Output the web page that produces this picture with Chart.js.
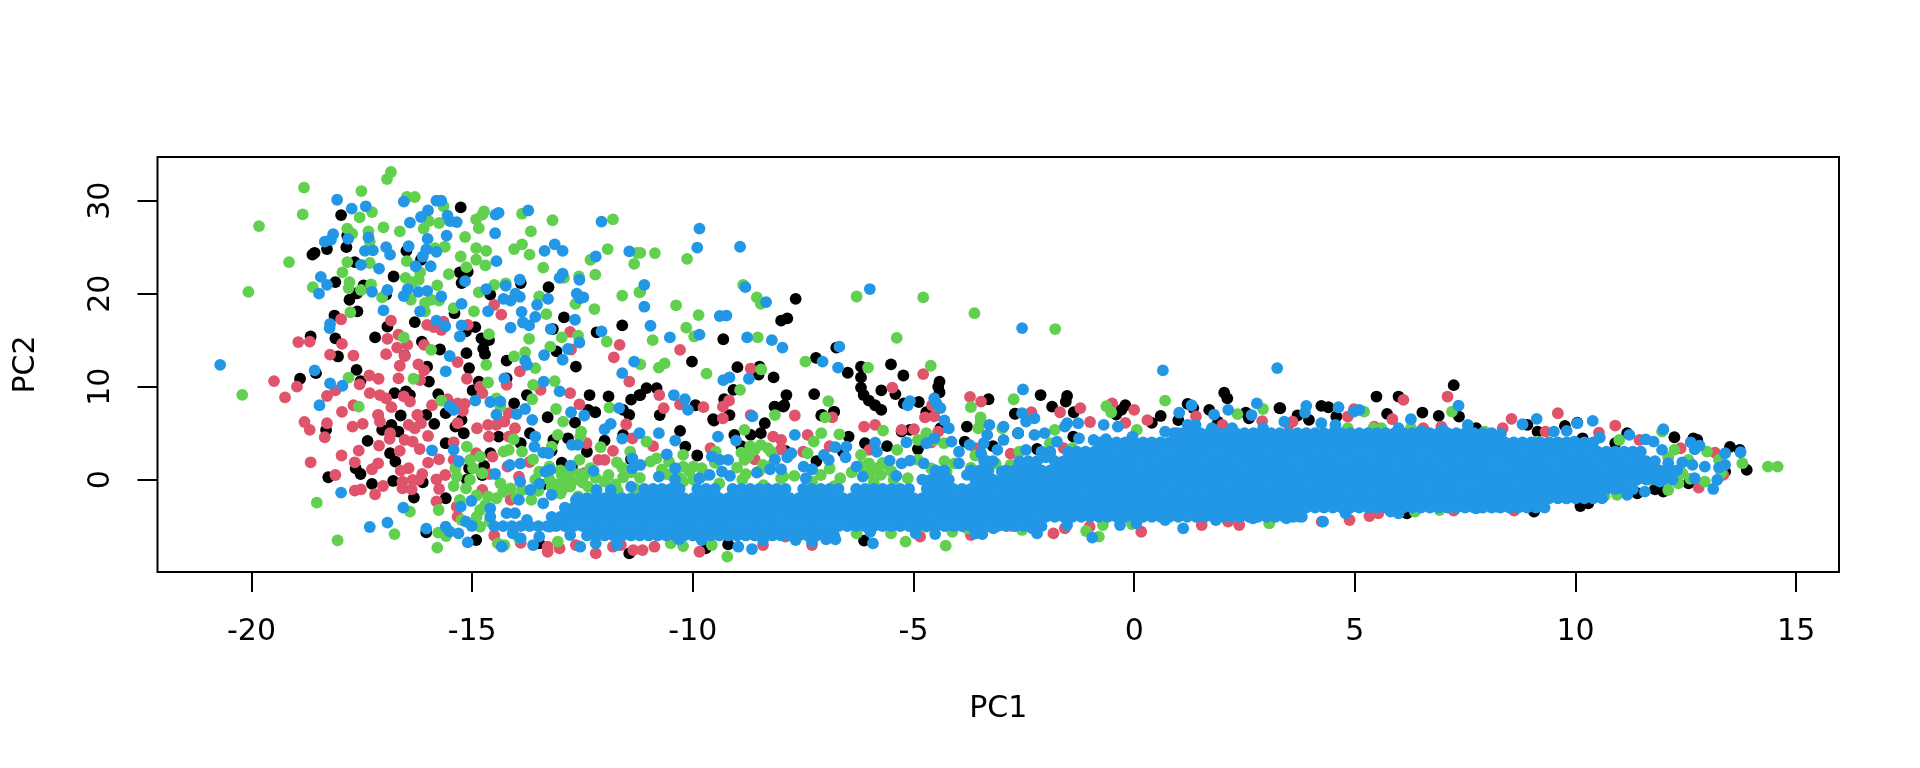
<!DOCTYPE html>
<html>
<head>
<meta charset="utf-8">
<title>PC1 vs PC2</title>
<script src="https://cdn.jsdelivr.net/npm/chart.js@4/dist/chart.umd.min.js"></script>
<style>
  body { margin: 0; background: #fff; }
  canvas { display: block; }
</style>
</head>
<body>
<canvas id="chart" width="1920" height="768"></canvas>
<script>
// values, flat x,y pairs per group
const blackPairs = [
-15.26,29.28,-17.97,28.45,-17.83,26.25,-17.85,25,-18.57,24.4,-18.62,24.2,-18.29,24.8,-16.49,24.6,-16.16,23.65,-17.66,23.4,-16.78,21.85,-15.28,22.3,-15.1,22.35,-15.24,21.15,-13.9,21.15,-13.27,20.7,-18.1,21.25,-17.46,20.9,-17.61,20.05,-17.78,19.35,-14.59,19.9,-16.95,19.9,-17.6,18.1,-18.12,17.65,-15.4,17.9,-12.92,17.45,-16.3,16.95,-16.92,16.45,-14.93,16.4,-15.14,15.95,-13.17,16.2,-11.6,16.6,-12.18,15.85,-18.66,15.4,-18.1,15.2,-17.2,15.3,-16.14,14.85,-14.79,15.2,-14.62,15,-14.75,14.1,-14.71,13.5,-15.13,13.6,-15.73,14,-13.09,13.8,-16.53,13.35,-18.04,13.25,-14.22,12.8,-12.65,12.15,-15.07,12,-16.02,12.15,-17.62,11.8,-18.54,11.45,-18.9,10.85,-17.53,10.6,-15.98,10.55,-14.85,10.55,-14.22,10.9,-14.99,9.6,-16.76,9.3,-16.5,9.5,-16.41,9.1,-15.77,9.2,-13.76,9.1,-12.34,9.1,-11.91,8.95,-11.4,8.6,-11.21,9.1,-14.05,8.2,-12.37,7.5,-12.21,7.25,-11.58,7.5,
-18.31,5.35,-16.83,5.89,-16.67,5.17,-17.04,5.35,-15.86,6,-16.62,6.9,-16.04,6.97,-15.6,7.15,-15.19,4.99,-15.38,5.71,-15.6,3.92,-15.24,6.43,-17.37,4.17,-16.86,2.84,-16.74,1.94,-17.64,1.23,-17.53,0.61,-18.26,0.26,-17.27,-0.46,-16.79,-0.14,-16.12,-0.28,-16.32,-1.93,-15.6,-2,-15.07,1.23,-14.73,1.47,-14.77,0.5,-15.12,0,-14.59,2.84,-14.91,-6.49,-16.04,-5.66,-13.69,4.99,-14.4,4.63,-13.9,3.92,-13.29,6.71,-12.67,6.14,-13.16,4.27,-12.83,4.45,-12.97,1.83,-12.74,1.4,-13.48,-6.85,-12,4.2,-11.58,4.81,-11.44,6.97,-11.44,-7.92,-13.43,-0.57,
-7.67,19.45,-7.86,17.35,-8,17.1,-9.31,15.1,-6.75,14.2,-7.21,13.1,-10.02,12.7,-8.99,12.1,-8.49,12.15,-8.51,11.3,-8.17,11,-6.19,12.15,-6.19,11,-6.49,11.5,-5.51,12.4,-5.23,11.2,-4.41,10.55,-4.44,10,-4.41,9.4,-6.19,9.9,-6.13,9.1,-6.01,8.5,-5.87,8,-5.73,7.5,-5.73,9.6,-5.41,9.2,-5.22,8.2,-4.88,8.35,-4.71,7.25,-11.05,9.85,-10.82,9.85,-11.19,9.1,-9.94,8,-10.75,6.95,-9.08,9.65,-9.29,8.65,-9.17,6.95,-9.54,6.5,-7.88,9.1,-7.93,8,-8.12,7.8,-7.25,9.2,-6.8,7.3,-7.09,6.9,-3.3,8.65,-2.12,9.1,-1.52,9,-1.55,8.4,-1.86,7.85,-1.37,7.25,-2.7,7.1,-0.2,8,-0.29,7.5,-0.41,7,2.04,9.35,2.11,8.75,1.21,8.15,1.34,7.7,1.7,7.5,0.6,6.85,2.53,7.2,3.29,7.7,
-10.29,5.24,-10.17,3.56,-9.52,6.36,-9.06,4.81,-8.69,4.81,-8.46,5,-8.37,6.07,-7.95,7.86,-8.15,7.86,-7.07,6.97,-6.8,7.3,-6.47,4.63,-6.1,3.92,-5.27,5.17,-5.08,5.35,-4.39,5.53,-3.79,5.71,-3.84,4.09,-2.63,4.99,-2.7,7.07,-1.38,4.63,-9.2,-6.96,-6.12,-6.56,-9.71,-7.39,
5.49,8.94,5.99,8.94,7.24,10.16,6.53,7.22,6.9,6.86,7.36,6.79,5.73,7.07,4.24,7.94,4.4,7.79,3.96,6.43,4.58,6.79,3.31,7.68,9.76,5.78,10.04,6.14,8.91,5.89,9.14,5.17,10.16,4.45,11.17,4.99,12.24,4.56,12.67,4.45,12.76,4.27,13.5,3.52,13.72,3.2,13.88,1.05,13.39,0.87,10.11,-2.83,10.29,-2.54,9.06,-3.44,6.18,-3.62,11.8,-1.03,11.99,-1.29,12.56,-0.39,11.4,-1.46,10.9,3.92,7.75,5.53,
0.4,6.1,1,6.4,1.9,6.2,2.6,6.6,3.7,6.9,-9.9,2.6,-8.9,3.6,-7.9,3.1,-7.2,2,-6.6,3,-5.6,3.6,-4.9,3.3,-3.2,3.6,-2.2,3.3,-12.4,3,-11.4,2.2,-13.2,3.1
];
const redPairs = [
-16.84,17.1,-17.97,17.25,-16.02,16.65,-15.65,17,-15.7,16.1,-15.87,16.4,-15.1,16.65,-14.5,18.8,-14.34,17.75,-12.78,15.9,-11.66,14.5,-18.94,14.8,-18.68,14.85,-17.95,14.6,-16.92,15.15,-16.67,15.6,-16.7,14.2,-16.47,14.5,-16.09,14.5,-18.22,13.45,-17.69,13.35,-16.95,13.5,-16.53,13.3,-15.33,12.65,-12.76,14,-11.79,13.15,-16.64,12.25,-16.22,12.4,-16.09,11.75,-13.92,11.65,-19.49,10.6,-18.97,10,-17.33,11.2,-17.12,10.85,-16.67,10.9,-16.18,10.7,-15.12,10.85,-14.22,10.2,-11.44,10.55,-17.55,10.25,-19.24,8.85,-18.29,9,-18.1,9.6,-17.32,9.3,-17.09,9.1,-16.95,8.75,-16.55,8.95,-16.41,8.4,-15.56,8.65,-15.33,8.2,-15.17,8.15,-14.82,10,-14.77,9.3,-12.78,9.3,-13.45,9.65,-12.57,8.1,-15.91,8,-16.83,7.8,-17.69,8,-17.95,7.3,-17.13,6.95,-16.24,6.95,-14.17,7.15,
-18.8,6.2,-18.68,5.35,-18.29,6.07,-18.34,4.56,-17.71,5.7,-17.48,6,-17.13,6.97,-17.09,6.25,-16.24,6.97,-16.16,6.07,-16.44,5.9,-16.3,5.53,-16.86,5,-16.87,4.38,-16.53,4.27,-16.35,4.1,-16,4.7,-16.19,3.3,-17.11,3.66,-17.57,3.13,-17.96,2.6,-18.66,1.87,-17.66,1.87,-17.13,1.76,-17.27,1.12,-16.64,3.09,-16,1.83,-16.44,1.23,-16.62,0.97,-16.13,0.61,-18.1,0.5,-16.58,-0.21,-16.35,-0.03,-16.21,-0.03,-15.81,0.04,-15.61,0.5,-17.02,-0.68,-16.58,-0.93,-16.37,-1.04,-17.52,-1.04,-17.66,-1.18,-17.2,-1.57,-15.75,-1,-15.81,-2.33,-15.75,2.19,-15.42,4.02,-15.42,2.12,-14.89,5.53,-14.64,5.89,-14.45,5.89,-14.62,4.63,-14.27,6.25,-14.03,5.53,-14.17,4.63,-12.41,3.92,-11.81,3.09,-11.51,5.96,-11.37,4.45,-14.91,2.84,-14.54,2.48,-13.94,0.33,-14.77,-1.11,-15.35,-2.9,-15.33,-3.98,-13.29,-7.75,-13.02,-7.39,-12.65,-7.03,-12.2,-7.92,-11.81,-7.21,-12.46,0.69,-12.14,2.12,-12,2.12,-13.29,-7.21,-14.13,-2.18,-15.33,6.07,-15.21,7.4,-11.63,-7.03,-11.35,-7.57,
-10.29,13.95,-4.78,11.35,-8.69,11.95,-5.48,9.9,-10.76,9.1,-10.66,7.7,-10.29,8.1,-9.76,7.8,-9.18,8.5,-9.32,7.85,-9.32,6.6,-8.69,6.95,-7.69,6.9,-6.84,6.7,-4.58,8,-3.72,8.9,-3.47,8.4,-4.74,6.7,-4.53,6.8,-2.33,7.25,-1.68,7.25,-1.22,7.7,-0.5,8.2,0,7.5,
-6.12,5.71,-5.87,5.89,-5.27,5.35,-4.99,5.42,-8.18,4.63,-8,4.27,-8,3.27,-7.4,4.81,-4.44,5.17,-9.85,-7.75,-10.87,-7.21,-11.14,-7.57,-8.41,-7.03,-7.3,-7.03,-7.9,-6.13,-4.85,-6.13,-2.96,-4.88,-2.77,-4.98,-1.83,-5.77,-1.57,-5.23,-1.01,-5.06,0.16,-5.6,1.53,-4.88,2.38,-4.88,2.13,-4.52,-3.7,-5.95,
6.1,8.58,7.1,8.94,9.6,7.14,8.55,6.54,10.9,5.82,8.35,5.53,9.32,5.17,10.53,5.06,3.59,6.25,5.85,6.5,4.98,7.57,4.84,6.79,5.44,5.71,6.55,5.53,6.96,5.71,11.45,4.27,12.38,3.38,13.16,2.91,12.79,-0.86,13.35,0.51,4.25,-4.52,4.88,-4.34,5.33,-3.91,5.53,-3.62,7.24,-3.33,8.21,-2.72,8.61,-3.33,10,3.38,
0.3,6.4,1.4,6.8,2,5.9,2.9,6.3,3.5,5.9,-1,6.2,-0.2,6.1,-14.5,-6,-13.9,-6.8,-10.9,3.6,-9.6,3.4,-8.6,2.2,-7.5,3,-6.9,3.6,-6,3.2,-4.6,4,-3.6,3.4,-2.8,2.8,-1.6,3.4,-14.2,1.4,-13.7,1.9,-14.6,0.6
];
const greenPairs = [
-16.84,33.09,-16.93,32.33,-18.81,31.4,-17.51,31.04,-18.84,28.53,-19.83,27.27,-19.15,23.4,-20.07,20.2,-20.21,9.12,-17.27,28.78,-17.55,28.2,-17.01,27.13,-16.64,26.7,-16.48,30.4,-16.3,30.4,-17.83,27,-17.72,26.45,-17.35,26.7,-17.32,25.6,-16.1,27,-15.98,27.8,-15.75,27.6,-15.65,29.4,-14.91,28,-14.77,28.5,-14.85,27.05,-15.16,26.1,-14.73,28.85,-13.87,28.6,-13.67,26.7,-13.18,27.9,-11.81,28,-15.62,25.05,-15.84,24.9,-15.26,24,-14.91,24.9,-14.68,24.6,-14.05,24.8,-13.87,25.3,-13.7,24.2,-11.93,24.8,-12.32,23.65,-11.33,23.2,-11.26,24.4,-16.48,23.5,-14.91,23.65,-15.13,22.85,-14.7,23.05,-13.39,22.8,-15.53,22.1,-16.18,22.3,-12.92,21.7,-12.58,21.85,-12.21,22.05,-17.83,23.4,-17.94,22.3,-17.32,23.3,-17.78,21.25,-17.8,20.6,-17.52,20.4,-17.29,21,-18.61,20.7,-16.51,21.7,-16.35,21.25,-16.21,21.5,-15.79,20.9,-16.39,19.35,-17.04,19.6,-16.07,19,-15.75,19.25,-15.93,19.35,-15.42,18.45,-14.96,18.1,-16.07,18.1,-17.76,18,-14.85,20.15,-14.5,20.95,-14.24,21.1,-13.48,19.7,-12.66,18.9,-12.23,18.35,-11.6,19.8,-13.32,17.8,-11.21,20.15,-13.71,15.15,-14.62,15.65,-16.55,15.3,-12.97,15.3,-12.6,15.5,-11.95,14.85,-15.93,13.95,-14.05,13.25,-13.8,13.7,-13.23,14.3,-13.57,12,-14.68,12.35,-16.33,10.85,-17.8,10.98,-14.64,10.45,-13.13,10.6,-13.62,10.2,-15.7,8.5,-13.64,8.65,-14.45,8.75,-17.57,7.85,-13.1,7.6,-11.89,7.75,-14.36,7.85,
-18.52,-2.47,-18.05,-6.53,-16.76,-5.85,-16.41,-3.44,-15.79,-7.31,-15.76,-3.26,-15.77,-5.7,-15.59,-6.06,-15.12,3.56,-15.38,1.23,-15.35,0.33,-15.42,-0.68,-15.05,2.12,-14.82,2.48,-14.98,1.23,-14.77,0.69,-15.05,0,-15.14,-0.93,-15.28,-2.18,-15.24,-4.34,-14.82,-5.06,-14.82,-3.26,-14.64,-1.83,-14.45,-2,-14.36,-0.39,-14.13,-0.93,-14.29,3.02,-14.17,3.2,-14.06,4.35,-13.87,3.02,-13.62,2.19,-13.57,0,-13.48,0.87,-13.2,3.56,-13.06,4.81,-12.94,6.25,-12.53,5.17,-12.55,4.63,-12.09,3.49,-11.72,1.87,-11.42,3.02,-14.42,-6.85,-14.27,-7.03,-13.94,-6.31,-13.06,-6.67,-12.88,0,-12.97,0.5,-12.74,-0.21,-12.46,0.5,-12.57,2.12,-12.32,1.23,-11.91,0.5,-11.58,0.26,-13.25,1.4,-12.78,-0.75,-12.37,-0.75,-13.66,-2.18,-13.87,-1.11,-13.25,0,-13,-1.5,-12.6,-1.8,-12.2,-1.6,-11.7,-1.2,-11.3,-1,
-13,1,-12.75,0.9,-12.55,0.6,-12.2,0.2,-12,-0.2,-11.75,-0.5,-11.4,0.8,-11.2,0.2,-11.6,1.3,-13.2,-0.8,-12.95,-1,-12.5,-0.3,-14.9,-1.7,-14.7,-2.7,-14.3,-1.3,-14,-1.9,-14.9,-4,-14.6,-4.5,-13.5,-1.2,-13.1,-0.5,-10.7,1.1,-10.5,0.5,-10.3,0.2,-9.7,0.5,-9.5,1.8,-9,1.3,-8.8,0.6,-8.5,0.9,-8.2,1.6,-7.7,0.4,-7.1,0.5,-6.9,1.2,-6.4,0.8,-6.2,1.5,-5.95,0.9,-5.7,1.8,-5.5,0.9,-8.6,3.2,-8.9,2.9,-8.3,3.4,-4.6,1.2,-4.3,2,-3.7,1.3,-3.4,2.2,-2.8,1.6,-2.4,1.4,-1.9,2.6,-1.3,2.8,
-10.86,24.37,-10.13,23.75,-8.86,20.95,-6.29,19.7,-4.78,19.6,-3.62,17.9,-1.79,16.2,-8.55,19.6,-8.46,18.9,-10.38,18.75,-9.87,17.7,-10.15,16.35,-9.97,15.4,-10.91,15,-8.53,15.3,-5.38,15.25,-7.45,12.7,-6.03,12.05,-4.61,12.25,-10.64,12.5,-10.77,12.05,-11.19,12.4,-9.69,11.4,-8.45,11.85,-8.93,9.65,-6.93,8.45,-2.73,8.65,-3.7,7.8,0.7,8.5,-0.63,7.9,-0.52,7.25,2.92,7.6,2.34,7.05,-8.14,6.95,-7,6.7,-3.48,6.7,-11.19,20.2,-11.19,24.4,
-9.22,-8.28,-9.57,-7.03,-10.22,-7.14,-10.5,-6.85,-5.18,-6.67,-4.27,-7.1,-2.54,-5.41,-1.09,-5.52,-0.8,-6.13,-0.71,-4.88,-4.12,-5.6,-6.29,-5.77,-5.51,-5.77,-4.72,-5.06,-3.79,-5.23,-0.05,-4.77,3.06,-4.7,
-11.05,4.1,-8.83,5.35,-7.09,5,-6.68,4.88,-5.69,5.28,-9.48,3,-10.22,2.66,-10.96,1.94,-10.08,0.87,-9.8,1.23,-9.99,0,-8.74,2.48,-8.46,3.74,-8.7,3.6,-8.83,2.12,-8.23,3,-7.95,0.33,-7.26,4.1,-7.4,2.84,-6.19,2.66,-5.83,1.23,-6.01,1.76,-5.59,1.58,-5.74,0.51,-6.01,0.69,-5.37,3.2,-4.9,4.27,-4.71,5,-4.52,4.27,-4.25,0.87,-4.07,1.76,-4.31,3.92,-2.99,5.53,-3.48,6.25,-3.53,5.53,-3.14,1.76,-1.91,3.92,-2.05,2.48,-1.8,5.35,-0.74,3.92,-0.97,2.12,0.06,5.35,-3.85,-1.65,-2.83,-0.93,-3.33,0.51,-1.1,-3.8,-4.7,-4.9,-10.82,2.3,-10.54,1.94,-10.22,1.4,-10.22,-0.21,-9.99,1.4,-8.88,0,-8.41,1.58,-8,0.15,-6.66,0.15,-5.45,0,-5.13,0.15,-4.9,2.12,-10.6,0.6,-9.4,-0.4,-8.4,-0.6,-7.3,-0.2,-6.8,-0.7,-5.9,-0.3,-4.7,-0.1,-3.6,2.6,-2.6,3,-1.4,3.4,
5.21,7.32,7.2,7.32,6.27,5.53,4.84,5.53,5.42,5.53,5.6,5.53,7.94,5.17,11.96,5.17,9.14,4.09,10.99,4.27,12.24,3.2,12.98,3.02,14.36,1.41,14.58,1.41,13.78,1.77,13.25,2.12,12.56,2.12,12.42,0.69,12.33,-0.39,12.93,-0.21,12.1,-1.11,10.94,-1.64,10.43,-1.82,10.66,-1.75,8.86,-2.83,9.23,-2.54,7.2,-2.9,6.92,-3.26,6.36,-3.44,11.68,-0.03,3.73,4.27,4.74,4.09,7.8,3.92,11.45,2.84,13.3,0.7,12.1,2.4,12.2,1,12.6,0.1
];
const bluePairs = [
-18.06,30.1,-17.73,29.15,-17.41,29.4,-16.55,29.9,-16,28.95,-16.16,28.25,-16.41,27.65,-15.81,30,-15.7,30,-15.56,28.4,-15.5,27.8,-15.35,27.7,-14.47,28.5,-14.4,28.7,-13.73,28.95,-12.07,27.75,-14.48,26.5,-15.58,26.25,-18.15,26.4,-18.34,25.6,-18.2,25.8,-17.81,25.9,-17.35,26.05,-16.01,25.9,-16.95,25,-16.86,24.2,-16.44,25.1,-17.43,24.6,-17.25,24.65,-16.04,24.75,-15.81,24.5,-16.12,24,-13.36,24.6,-13.13,25.3,-12.95,24.6,-12.2,24,-11.44,24.55,-14.45,23.5,-17.52,23.1,-17.11,22.7,-16.28,22.95,-15.94,22.95,-12.95,22.15,-13.02,21.7,-12.57,21.5,-13.92,21.5,-15.16,21.35,-14.68,20.5,-14.24,20.85,-18.43,21.8,-18.29,20.95,-18.47,20,-17.27,20.2,-16.92,20.4,-16.46,20.5,-16.55,19.75,-16.22,20.2,-16.02,20.3,-15.7,19.7,-14.29,19.45,-14.13,19.25,-14.02,20,-13.92,19.65,-13.28,19.45,-12.63,20,-12.48,19.6,-12.56,19.5,-13.53,18.8,-15.24,18.9,-17.01,18.2,-16.18,18.1,-14.64,18.1,-13.88,18.05,-13.57,17.5,-13.85,16.9,-13.71,16.6,-14.13,16.35,-12.67,17.2,-18.22,16.75,-18.23,16.3,-15.81,17.1,-15.61,16.5,-15.24,16.6,-15.28,15.4,-13.22,16.2,-12.07,15.95,-12.57,14.75,-12.83,14.05,-15.51,13.3,-13.37,13.4,-12.95,12.9,-13.8,12.8,-13.76,12.35,-11.33,12.7,-20.71,12.35,-15.6,11.65,-18.57,11.75,-14.27,10.9,-11.6,11.45,-18.22,10.35,-17.94,10.1,-13.38,10.55,-13.02,9.5,-18.46,8,-14.93,8.5,-14.59,8.35,-14.36,8.4,-15.51,7.9,-15.42,7.5,-13.8,7.6,-11.67,7.7,-14.45,7,-13.99,7.05,-12.76,7.25,-12.46,6.9,
-17.32,-5.09,-16.92,-4.62,-17.97,-1.39,-16.56,-3,-16.04,-5.27,-15.91,3.16,-15.42,3.2,-15.3,1.98,-15.6,-5.06,-15.51,-5.59,-15.31,-5.77,-15.14,-4.52,-15.01,-4.98,-15.26,-2.9,-15.02,-2.29,-15.1,-6.74,-14.33,-7.21,-14.48,0.61,-14.15,1.58,-13.91,1.73,-13.91,-0.21,-13.68,-1.11,-13.48,-0.46,-13.34,0.87,-13.23,1.05,-13.39,2.91,-13.27,2.84,-13.57,4.63,-13.59,3.56,-12.74,3.74,-12.61,3.74,-12.77,1.51,-12.25,0.94,-12,5.42,-11.86,6,-11.6,4.42,-13.64,6.43,-11.37,2.3,-11.37,1.23,-11.21,4.99,-13.2,-1.64,-13.39,-2.54,-13.94,-2.18,-13.9,-6.31,-13.62,-7.03,-13.48,-6.13,-12.55,-7.21,-12.2,-6.85,-11.72,-7.03,-14.59,-3.08,-14.59,-3.98,-14.22,-3.6,-14.03,-3.6,-14.08,-5.77,-13.76,-4.34,-13.25,-5.06,-12.78,-5.95,-12.88,-3.98,-12.65,-2.18,-12.18,-1.11,-11.86,-1.11,-12.23,-2.9,-11.4,-0.75,
-9.85,27,-9.9,24.95,-8.93,25.05,-11.1,20.95,-8.81,20.7,-5.99,20.5,-8.34,19.1,-11.1,18.6,-9.39,17.6,-9.24,17.65,-10.96,16.55,-10.52,15.3,-9.85,15.6,-8.77,15.3,-8.21,15,-7.97,14.2,-6.68,14.3,-2.54,16.3,-7.06,12.7,-6.71,12.05,0.65,11.75,3.24,12,-9.17,11,-9.31,10.7,-8.73,10.85,-10.43,9.1,-10.18,8.65,-10.11,7.5,-8.65,6.8,-4.53,8.75,-4.48,8.2,-4.39,7.7,-5.08,8.45,-5.13,8,-2.52,9.7,-2.54,7.15,1.3,8,2.78,8.2,1.02,7.2,1.81,7,2.13,7.5,2.66,6.95,-2.26,6.6,
-10.77,5,-10.4,4.2,-10.59,2.73,-11.19,1.58,-10.4,1.23,-10.4,0,-10.77,0.33,-9.57,2.48,-9.43,4.63,-9.39,2.12,-9.2,2.12,-9.02,4.2,-9.34,0.87,-9.16,0.4,-9.62,0.51,-9.85,0.15,-8.55,0.76,-8.25,1.12,-8,1.12,-8.14,2.19,-7.86,2.41,-7.77,2.84,-7.69,4.81,-7.49,1.4,-7.3,1.12,-7.44,0.15,-7.03,2.66,-6.92,2.12,-6.77,3.49,-6.52,3.56,-6.54,2.41,-6.29,1.4,-6.15,0.33,-5.87,3.99,-5.83,3,-5.54,2.05,-5.27,1.76,-5.08,2.05,-5.39,0.4,-5.16,4.02,-4.77,1.76,-4.3,6.36,-4.2,5.53,-4.53,4.45,-4.71,3.92,-4.14,4.09,-3.97,3,-3.73,3.74,-3.41,3.92,-3.28,5.89,-3.33,4.81,-2.96,5.71,-2.96,4.27,-3.1,3.2,-3.47,2.84,-3.33,1.94,-3.97,1.76,-3.79,0.51,-2.45,6.25,-2.63,4.99,-2.26,4.81,-2.03,5,-2.45,3.2,-1.75,4.09,-1.57,5.71,-1.52,6.07,-1.27,6.07,-1.25,4.45,-0.92,4.27,-0.69,5.89,-0.64,4.35,-0.37,5.71,-0.04,4.63,-1.2,2.12,-1.57,1.76,-2,2.4,-2.6,1.6,-3,0.9,0.7,5.17,0.98,5,1.21,5.89,1.39,5.89,2.22,5.53,2.92,5.53,1.76,5.53,
-8.97,-7.21,-8.66,-7.46,-8.41,-6.49,-9.8,-6.49,-10.31,-6.42,-7.67,-6.49,-7.3,-6.67,-6.98,-6.42,-6.77,-6.42,-5.98,-5.6,-5.92,-6.85,-4.95,-5.77,-4.51,-5.85,-3.6,-5.77,-3.44,-5.85,-3.19,-5.23,-2.31,-5.23,-2.2,-5.77,-1.52,-4.88,-0.95,-6.24,-0.32,-4.88,0.05,-4.7,0.7,-4.34,1.11,-5.23,1.85,-4.34,2.69,-4.16,3.2,-3.62,
3.9,7.94,3.87,7.22,4.63,7.79,4.98,7.32,5.1,7.5,6.27,6.5,7.35,7.97,9.12,6.54,10.04,6.07,10.39,6.32,11.99,5.42,8.8,5.96,7.56,5.89,3.4,6.25,4.24,6.07,4.56,5.89,5.99,5.53,6.5,5.24,7,5.35,8.31,4.92,9.51,5.17,9.8,5.24,10.55,4.52,11.22,4.81,9.97,4.09,11.59,4.34,11.77,4.09,12.61,4.02,12.7,3.27,12.81,3.67,13.39,2.84,13.74,2.95,11.48,3.02,11.96,3.2,12.42,1.87,12.65,1.59,12.93,1.41,13.25,1.3,13.39,1.59,13.21,-0.03,12.7,0.15,13.12,-1,12.1,1.77,12.19,0.69,11.91,0.69,11.91,-0.21,11.57,-1.29,11.17,-1.64,9.12,-2.72,7.75,-3.08,8.21,-2.9,5.99,-3.62,4.28,-4.52,3.45,-4.16,3.73,-3.98,4.79,-3.62,5.81,-3.44,9.79,-2,9.32,-1.64
];
// solid core of the blue band: dots overlap completely here, so single dots can't be
// read, positions are estimated row by row to cover the solid area
const blueCoreY = [5, 4, 3, 2, 1, 0, -1, -2, -3, -4, -5, -6];
const blueCoreX = [
[0.9,1.1,1.3,1.5,1.7,1.9,2.1,2.3,2.5,2.7,2.9,3.1,3.3,3.5,3.7,3.9,4.1,4.3,4.5,4.7,4.9,5.1,5.3,5.5,5.7,5.9,6.1,6.3,6.5,6.7,6.9,7.1,7.3,7.5,7.7,7.9,8.1],
[-0.8,-0.6,-0.4,-0.2,0,0.2,0.4,0.6,0.8,1,1.2,1.4,1.6,1.8,2,2.2,2.4,2.6,2.8,3,3.2,3.4,3.6,3.8,4,4.2,4.4,4.6,4.8,5,5.2,5.4,5.6,5.8,6,6.2,6.4,6.6,6.8,7,7.2,7.4,7.6,7.8,8,8.2,8.4,8.6,8.8,9,9.2,9.4,9.6,9.8,10,10.2,10.4],
[-2.1,-1.9,-1.5,-1.3,-1.1,-0.9,-0.7,-0.5,-0.3,-0.1,0.1,0.3,0.5,0.7,0.9,1.1,1.3,1.5,1.7,1.9,2.1,2.3,2.5,2.7,2.9,3.1,3.3,3.5,3.7,3.9,4.1,4.3,4.5,4.7,4.9,5.1,5.3,5.5,5.7,5.9,6.1,6.3,6.5,6.7,6.9,7.1,7.3,7.5,7.7,7.9,8.1,8.3,8.5,8.7,8.9,9.1,9.3,9.5,9.7,9.9,10.1,10.3,10.5,10.7,10.9,11.1,11.3],
[-3.4,-3.2,-2.6,-2.4,-2.2,-1.8,-1.6,-1.4,-1.2,-1,-0.8,-0.6,-0.4,-0.2,0,0.2,0.4,0.6,0.8,1,1.2,1.4,1.6,1.8,2,2.2,2.4,2.6,2.8,3,3.2,3.4,3.6,3.8,4,4.2,4.4,4.6,4.8,5,5.2,5.4,5.6,5.8,6,6.2,6.4,6.6,6.8,7,7.2,7.4,7.6,7.8,8,8.2,8.4,8.6,8.8,9,9.2,9.4,9.6,9.8,10,10.2,10.4,10.6,10.8,11,11.2,11.4,11.6,11.8],
[-4.5,-4.3,-3.7,-3.5,-3.3,-2.9,-2.7,-2.5,-2.3,-2.1,-1.9,-1.7,-1.5,-1.3,-1.1,-0.9,-0.7,-0.5,-0.3,-0.1,0.1,0.3,0.5,0.7,0.9,1.1,1.3,1.5,1.7,1.9,2.1,2.3,2.5,2.7,2.9,3.1,3.3,3.5,3.7,3.9,4.1,4.3,4.5,4.7,4.9,5.1,5.3,5.5,5.7,5.9,6.1,6.3,6.5,6.7,6.9,7.1,7.3,7.5,7.7,7.9,8.1,8.3,8.5,8.7,8.9,9.1,9.3,9.5,9.7,9.9,10.1,10.3,10.5,10.7,10.9,11.1,11.3,11.5,11.7,11.9,12.1,12.3],
[-4.8,-4.6,-4.4,-4.2,-3.6,-3.4,-3.2,-3,-2.8,-2.6,-2.4,-2.2,-2,-1.8,-1.6,-1.4,-1.2,-1,-0.8,-0.6,-0.4,-0.2,0,0.2,0.4,0.6,0.8,1,1.2,1.4,1.6,1.8,2,2.2,2.4,2.6,2.8,3,3.2,3.4,3.6,3.8,4,4.2,4.4,4.6,4.8,5,5.2,5.4,5.6,5.8,6,6.2,6.4,6.6,6.8,7,7.2,7.4,7.6,7.8,8,8.2,8.4,8.6,8.8,9,9.2,9.4,9.6,9.8,10,10.2,10.4,10.6,10.8,11,11.2,11.4,11.6,11.8,12,12.2],
[-11.1,-10.9,-10.7,-10.5,-10.3,-9.9,-9.7,-9.5,-9.1,-8.9,-8.7,-8.5,-8.3,-8.1,-7.9,-7.5,-7.3,-7.1,-6.9,-6.7,-6.3,-6.1,-5.9,-5.7,-5.5,-5.3,-5.1,-4.7,-4.5,-4.3,-4.1,-3.9,-3.7,-3.5,-3.3,-3.1,-2.9,-2.7,-2.5,-2.3,-2.1,-1.9,-1.7,-1.5,-1.3,-1.1,-0.9,-0.7,-0.5,-0.3,-0.1,0.1,0.3,0.5,0.7,0.9,1.1,1.3,1.5,1.7,1.9,2.1,2.3,2.5,2.7,2.9,3.1,3.3,3.5,3.7,3.9,4.1,4.3,4.5,4.7,4.9,5.1,5.3,5.5,5.7,5.9,6.1,6.3,6.5,6.7,6.9,7.1,7.3,7.5,7.7,7.9,8.1,8.3,8.5,8.7,8.9,9.1,9.3,9.5,9.7,9.9,10.1,10.3,10.5,10.7,10.9,11.1,11.3],
[-12.6,-12.4,-12.2,-12,-11.8,-11.6,-11.4,-11.2,-11,-10.8,-10.6,-10.4,-10.2,-10,-9.8,-9.6,-9.4,-9.2,-9,-8.8,-8.6,-8.4,-8.2,-8,-7.8,-7.6,-7.4,-7.2,-7,-6.8,-6.6,-6.4,-6.2,-6,-5.8,-5.6,-5.4,-5.2,-5,-4.8,-4.6,-4.4,-4.2,-4,-3.8,-3.6,-3.4,-3.2,-3,-2.8,-2.6,-2.4,-2.2,-2,-1.8,-1.6,-1.4,-1.2,-1,-0.8,-0.6,-0.4,-0.2,0,0.2,0.4,0.6,0.8,1,1.2,1.4,1.6,1.8,2,2.2,2.4,2.6,2.8,3,3.2,3.4,3.6,3.8,4,4.2,4.4,4.6,4.8,5,5.2,5.4,5.6,5.8,6,6.2,6.4,6.6,6.8,7,7.2,7.4,7.6,7.8,8,8.2,8.4,8.6,8.8,9,9.2,9.4,9.6,9.8,10,10.2,10.4,10.6],
[-12.9,-12.7,-12.5,-12.3,-12.1,-11.9,-11.7,-11.5,-11.3,-11.1,-10.9,-10.7,-10.5,-10.3,-10.1,-9.9,-9.7,-9.5,-9.3,-9.1,-8.9,-8.7,-8.5,-8.3,-8.1,-7.9,-7.7,-7.5,-7.3,-7.1,-6.9,-6.7,-6.5,-6.3,-6.1,-5.9,-5.7,-5.5,-5.3,-5.1,-4.9,-4.7,-4.5,-4.3,-4.1,-3.9,-3.7,-3.5,-3.3,-3.1,-2.9,-2.7,-2.5,-2.3,-2.1,-1.9,-1.7,-1.5,-1.3,-1.1,-0.9,-0.7,-0.5,-0.3,-0.1,0.1,0.3,0.5,0.7,0.9,1.1,1.3,1.5,1.7,1.9,2.1,2.3,2.5,2.7,2.9,3.1,3.3,3.5,3.7,3.9,4.1,4.3,4.5,4.7,4.9,5.1,5.3,5.5,5.7,5.9,6.1,6.3,6.5,6.7,6.9,7.1,7.3,7.5,7.7,7.9,8.1,8.3,8.5,8.7,8.9,9.1,9.3],
[-13.2,-13,-12.8,-12.6,-12.4,-12.2,-12,-11.8,-11.6,-11.4,-11.2,-11,-10.8,-10.6,-10.4,-10.2,-10,-9.8,-9.6,-9.4,-9.2,-9,-8.8,-8.6,-8.4,-8.2,-8,-7.8,-7.6,-7.4,-7.2,-7,-6.8,-6.6,-6.4,-6.2,-6,-5.8,-5.6,-5.4,-5.2,-5,-4.8,-4.6,-4.4,-4.2,-4,-3.8,-3.6,-3.4,-3.2,-3,-2.8,-2.6,-2.4,-2.2,-2,-1.8,-1.6,-1.4,-1.2,-1,-0.8,-0.6,-0.4,-0.2,0,0.2,0.4,0.6,0.8,1,1.2,1.4,1.6,1.8,2,2.2,2.4,2.6,2.8,3,3.2,3.4,3.6,3.8],
[-14.5,-14.3,-14.1,-13.9,-13.7,-13.5,-13.3,-13.1,-12.9,-12.7,-12.5,-12.3,-12.1,-11.9,-11.7,-11.5,-11.3,-11.1,-10.9,-10.7,-10.5,-10.3,-10.1,-9.9,-9.7,-9.5,-9.3,-9.1,-8.9,-8.7,-8.5,-8.3,-8.1,-7.9,-7.7,-7.5,-7.3,-7.1,-6.9,-6.7,-6.5,-6.3,-6.1,-5.9,-5.7,-5.5,-5.3,-5.1,-4.9,-4.7,-4.5,-4.3,-4.1,-3.9,-3.7,-3.5,-3.3,-3.1,-2.9,-2.7,-2.5,-2.3,-2.1],
[-12.4,-12.2,-12,-11.8,-11.6,-11.4,-11.2,-11,-10.8,-10.6,-10.4,-10.2,-10,-9.8,-9.6,-9.4,-9.2,-9,-8.8,-8.6,-8.4,-8.2,-8,-7.8,-7.6,-7.4,-7.2,-7,-6.8]
];
const xTicks = [-20, -15, -10, -5, 0, 5, 10, 15];
const yTicks = [0, 10, 20, 30];

function toPoints(pairs) {
  const pts = [];
  for (let i = 0; i < pairs.length; i += 2) pts.push({ x: pairs[i], y: pairs[i + 1] });
  return pts;
}

const blueCore = [];
blueCoreY.forEach((y, i) => blueCoreX[i].forEach(x => blueCore.push({ x, y })));

const FONT = { family: '"DejaVu Sans"', size: 30 };

// R draws the box over the points
const boxPlugin = {
  id: 'box',
  afterDraw(chart) {
    const { ctx, chartArea: a } = chart;
    ctx.save();
    ctx.strokeStyle = '#000';
    ctx.lineWidth = 2;
    ctx.strokeRect(a.left, a.top, a.right - a.left, a.bottom - a.top);
    ctx.restore();
  }
};

function series(label, color, data) {
  return { label, data, backgroundColor: color, borderWidth: 0, pointRadius: 5.9, pointHoverRadius: 5.9, showLine: false };
}

new Chart(document.getElementById('chart'), {
  type: 'scatter',
  data: {
    // first dataset ends up on top
    datasets: [
      series('4', '#2297E6', blueCore.concat(toPoints(bluePairs))),
      series('3', '#61D04F', toPoints(greenPairs)),
      series('2', '#DF536B', toPoints(redPairs)),
      series('1', '#000000', toPoints(blackPairs))
    ]
  },
  options: {
    responsive: false,
    animation: false,
    layout: { padding: { left: 0, right: 81, top: 157, bottom: 0 } },
    plugins: { legend: { display: false }, tooltip: { enabled: false } },
    scales: {
      x: {
        type: 'linear',
        min: -22.13,
        max: 15.97,
        afterFit(scale) { scale.height = 196; },
        afterBuildTicks(scale) { scale.ticks = xTicks.map(value => ({ value })); },
        grid: { drawOnChartArea: false, tickLength: 20, tickColor: '#000', lineWidth: 2 },
        border: { display: false },
        ticks: { font: FONT, color: '#000', padding: 22, includeBounds: false, maxRotation: 0, autoSkip: false },
        title: { display: true, text: 'PC1', font: FONT, color: '#000', padding: { top: 0, bottom: 41 } }
      },
      y: {
        type: 'linear',
        min: -9.93,
        max: 34.7,
        afterFit(scale) { scale.width = 157.5; },
        afterBuildTicks(scale) { scale.ticks = yTicks.map(value => ({ value })); },
        grid: { drawOnChartArea: false, tickLength: 20, tickColor: '#000', lineWidth: 2 },
        border: { display: false },
        ticks: { font: FONT, color: '#000', padding: 17, includeBounds: false, minRotation: 90, maxRotation: 90, autoSkip: false, crossAlign: 'center' },
        title: { display: true, text: 'PC2', font: FONT, color: '#000', padding: { top: 8, bottom: 0 } }
      }
    }
  },
  plugins: [boxPlugin]
});
</script>
</body>
</html>
